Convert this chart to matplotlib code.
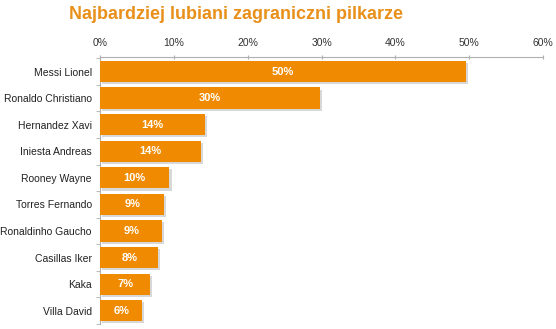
import matplotlib.pyplot as plt
import matplotlib.patheffects as pe
from matplotlib.ticker import FuncFormatter

players = ["Messi Lionel", "Ronaldo Christiano", "Hernandez Xavi", "Iniesta Andreas",
           "Rooney Wayne", "Torres Fernando", "Ronaldinho Gaucho", "Casillas Iker",
           "Kaka", "Villa David"]
shares = [49.6, 29.8, 14.2, 13.7, 9.4, 8.7, 8.4, 7.9, 6.8, 5.7]
labels = ["50%", "30%", "14%", "14%", "10%", "9%", "9%", "8%", "7%", "6%"]

plt.rcParams["font.family"] = ["Liberation Sans", "DejaVu Sans"]

fig = plt.figure(figsize=(5.56, 3.29), dpi=100)
ax = fig.add_axes([0.18, 0.015, 0.7966, 0.812])

ypos = list(range(len(players)))
bars = ax.barh(ypos, shares, height=0.8, color="#F08A00", zorder=3)
for b in bars:
    b.set_path_effects([pe.SimplePatchShadow(offset=(1.5, -1.5), shadow_rgbFace="#d8d8d8", alpha=1),
                        pe.Normal()])

for y, v, t in zip(ypos, shares, labels):
    ax.text(v / 2, y, t, ha="center", va="center", color="white",
            fontsize=8, fontweight="bold", zorder=4)

ax.set_xlim(0, 60)
ax.set_ylim(len(players) - 0.5, -0.55)
ax.xaxis.tick_top()
ax.set_xticks(range(0, 61, 10))
ax.xaxis.set_major_formatter(FuncFormatter(lambda x, _: f"{x:.0f}%"))
ax.set_yticks(ypos)
ax.set_yticklabels(players)
ax.set_yticks([y + 0.5 for y in range(-1, len(players))], minor=True)

for s in ["right", "bottom"]:
    ax.spines[s].set_visible(False)
for s in ["top", "left"]:
    ax.spines[s].set_color("#b0b0b0")
    ax.spines[s].set_linewidth(0.8)

ax.tick_params(axis="x", length=3, direction="inout", color="#b0b0b0",
               labelsize=7.5, labelcolor="#333333", pad=5)
ax.tick_params(axis="y", which="major", length=0, labelsize=7.5,
               labelcolor="#222222", pad=6)
ax.tick_params(axis="y", which="minor", length=3, color="#b0b0b0")

fig.text(0.425, 0.957, "Najbardziej lubiani zagraniczni pilkarze", ha="center", va="center",
         color="#E8901A", fontsize=13, fontweight="bold")

fig.savefig("out.png", dpi=100)
